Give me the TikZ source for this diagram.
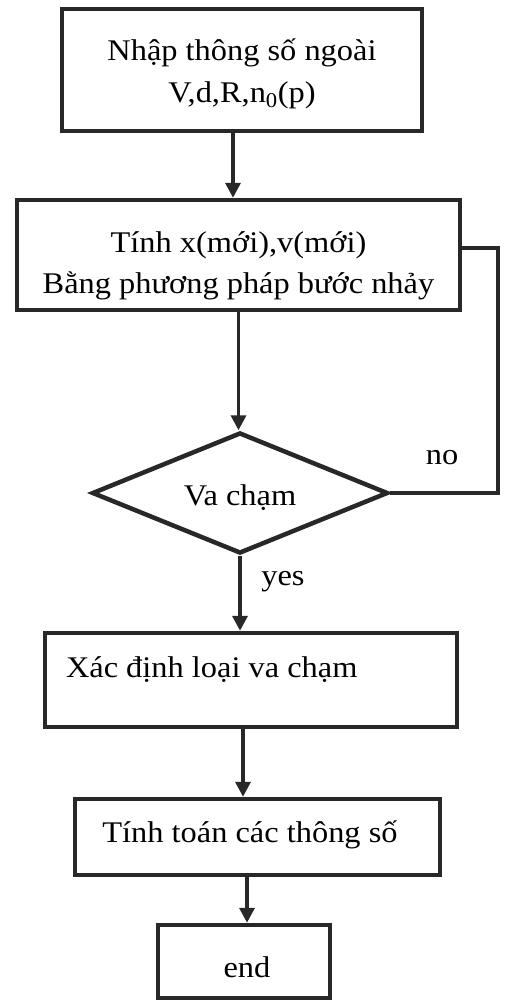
\documentclass[tikz,border=0pt]{standalone}
\usepackage{fontspec}
\setmainfont{Liberation Serif}[FakeStretch=1.08]
\usetikzlibrary{shapes.geometric,arrows.meta}
\definecolor{ink}{RGB}{40,40,40}
\begin{document}
\begin{tikzpicture}[x=1pt,y=-1pt,
  box/.style={draw=ink,line width=4.5pt,rectangle,inner sep=0pt,align=center,font=\fontsize{30}{42}\selectfont},
  dec/.style={draw=ink,line width=4.5pt,diamond,inner sep=0pt,font=\fontsize{30}{42}\selectfont},
  arr/.style={draw=ink,line width=3.5pt,-{Triangle[width=15pt,length=15pt]}},
  conn/.style={draw=ink,line width=3.5pt,line join=miter},
  lbl/.style={font=\fontsize{30}{36}\selectfont,inner sep=0pt}]
\useasboundingbox (0,0) rectangle (512,1002);
\fill[white] (0,0) rectangle (512,1002);

\node[box,minimum width=360pt,minimum height=122pt] (b1) at (242,70)
  {\raisebox{-9pt}[0pt][0pt]{\begin{tabular}{@{}c@{}}Nhập thông số ngoài\\V,d,R,n\textsubscript{0}(p)\end{tabular}}};
\node[box,minimum width=443pt,minimum height=110pt] (b2) at (238.5,255)
  {\raisebox{-16pt}[0pt][0pt]{\begin{tabular}{@{}c@{}}Tính x(mới),v(mới)\\[-1pt]Bằng phương pháp bước nhảy\end{tabular}}};
\node[dec,minimum width=296pt,minimum height=121pt] (d) at (240,493)
  {\raisebox{-12pt}[0pt][0pt]{Va chạm}};
\node[box,minimum width=412pt,minimum height=94pt,anchor=center] (b3) at (251,680)
  {\makebox[370pt][l]{\raisebox{3pt}[0pt][0pt]{Xác định loại va chạm}}};
\node[box,minimum width=365pt,minimum height=76pt] (b4) at (257.5,837)
  {\makebox[0pt]{\hspace{-15pt}\raisebox{-5pt}[0pt][0pt]{Tính toán các thông số}}};
\node[box,minimum width=172pt,minimum height=73pt] (b5) at (244,961.5)
  {\makebox[0pt]{\hspace{6pt}\raisebox{-16pt}[0pt][0pt]{end}}};

\node[lbl] (no) at (442,458) {no};
\node[lbl] (yes) at (283,582) {yes};
\coordinate (fb) at (498,248);

\draw[arr] ([xshift=-9pt]b1.south) -- ([xshift=-9pt]b1.south |- b2.north);
\draw[arr] (b2.south) -- (b2.south |- d.north);
\draw[arr] (d.south) -- (d.south |- b3.north);
\draw[arr] ([xshift=-8pt]b3.south) -- ([xshift=-8pt]b3.south |- b4.north);
\draw[arr] ([xshift=-10.5pt]b4.south) -- ([xshift=-10.5pt]b4.south |- b5.north);
\draw[conn] (d.east) -| (fb) -- (fb -| b2.east);
\end{tikzpicture}
\end{document}
